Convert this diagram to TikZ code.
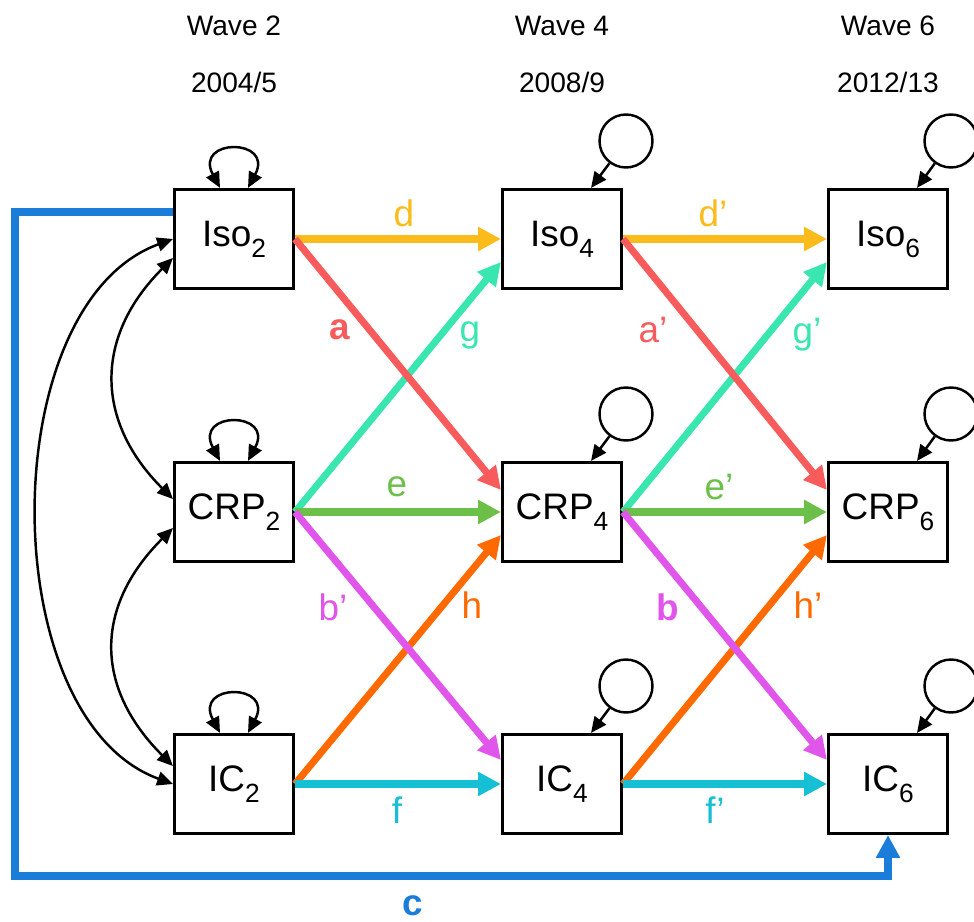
\documentclass[tikz,border=0pt]{standalone}
\usepackage{fontspec}
\setmainfont{Liberation Sans}
\usetikzlibrary{arrows.meta}

\definecolor{dcol}{RGB}{251,187,26}
\definecolor{acol}{RGB}{247,91,91}
\definecolor{gcol}{RGB}{58,230,176}
\definecolor{ecol}{RGB}{108,192,74}
\definecolor{bcol}{RGB}{225,86,234}
\definecolor{hcol}{RGB}{255,106,0}
\definecolor{fcol}{RGB}{22,192,212}
\definecolor{ccol}{RGB}{26,125,218}

\newcommand{\wsub}[1]{\raisebox{-0.3em}{\fontsize{15}{15}\selectfont #1}}

\begin{document}
\begin{tikzpicture}[x=0.02cm, y=-0.02cm,
  >={Triangle[length=9pt,width=8pt]},
  var/.style={draw, rectangle, line width=1.5pt, minimum width=2.39cm, minimum height=1.99cm, inner sep=0pt, font=\fontsize{21}{25}\selectfont},
  err/.style={draw, circle, line width=1.4pt, minimum size=1.06cm, inner sep=0pt},
  blk/.style={line width=1.4pt},
  arr/.style={line width=4pt, -{Triangle[length=13pt,width=13pt]}},
  lab/.style={inner sep=0pt, font=\fontsize{21}{25}\selectfont},
  title/.style={inner sep=0pt, font=\fontsize{16}{19}\selectfont}]
\useasboundingbox (0,0) rectangle (974,922);

\node[title] (w2) at (234,26) {Wave 2};
\node[title] (w4) at (562,26) {Wave 4};
\node[title] (w6) at (888,26) {Wave 6};
\node[title] (t2) at (234,82) {2004/5};
\node[title] (t4) at (562,82) {2008/9};
\node[title] (t6) at (888,82) {2012/13};

\node[var] (iso2) at (234,239) {Iso\wsub{2}};
\node[var] (crp2) at (234,512) {CRP\wsub{2}};
\node[var] (ic2) at (234,784) {IC\wsub{2}};
\node[var] (iso4) at (562,239) {Iso\wsub{4}};
\node[var] (crp4) at (562,512) {CRP\wsub{4}};
\node[var] (ic4) at (562,784) {IC\wsub{4}};
\node[var] (iso6) at (888,239) {Iso\wsub{6}};
\node[var] (crp6) at (888,512) {CRP\wsub{6}};
\node[var] (ic6) at (888,784) {IC\wsub{6}};

\node[err] (eiso4) at (626,141) {};
\node[err] (ecrp4) at (626,414) {};
\node[err] (eic4) at (626,686) {};
\node[err] (eiso6) at (951,141) {};
\node[err] (ecrp6) at (951,414) {};
\node[err] (eic6) at (951,686) {};

\draw[blk,->] (eiso4) -- ([xshift=0.58cm]iso4.north);
\draw[blk,->] (ecrp4) -- ([xshift=0.58cm]crp4.north);
\draw[blk,->] (eic4) -- ([xshift=0.58cm]ic4.north);
\draw[blk,->] (eiso6) -- ([xshift=0.58cm]iso6.north);
\draw[blk,->] (ecrp6) -- ([xshift=0.58cm]crp6.north);
\draw[blk,->] (eic6) -- ([xshift=0.58cm]ic6.north);

\draw[blk,<->] ([xshift=-0.28cm]iso2.north) to[out=118,in=62,looseness=5.2] ([xshift=0.28cm]iso2.north);
\draw[blk,<->] ([xshift=-0.28cm]crp2.north) to[out=118,in=62,looseness=5.2] ([xshift=0.28cm]crp2.north);
\draw[blk,<->] ([xshift=-0.28cm]ic2.north) to[out=118,in=62,looseness=5.2] ([xshift=0.28cm]ic2.north);

\draw[blk,<->] (iso2.west) to[out=200,in=160,looseness=0.9] (ic2.west);
\draw[blk,<->] ([yshift=-0.38cm]iso2.west) to[out=225,in=135,looseness=1.18] ([yshift=0.26cm]crp2.west);
\draw[blk,<->] ([yshift=-0.32cm]crp2.west) to[out=225,in=135,looseness=1.2] ([yshift=0.36cm]ic2.west);

\coordinate (cbend) at (15,876);
\draw[arr,ccol] ([yshift=0.54cm]iso2.west) -| (cbend) -| (ic6.south);

\draw[arr,dcol] (iso2.east) -- (iso4.west);
\draw[arr,gcol] (crp2.east) -- ([yshift=-0.46cm]iso4.west);
\draw[arr,acol] (iso2.east) -- ([yshift=0.44cm]crp4.west);
\draw[arr,ecol] (crp2.east) -- (crp4.west);
\draw[arr,hcol] (ic2.east) -- ([yshift=-0.46cm]crp4.west);
\draw[arr,bcol] (crp2.east) -- ([yshift=0.48cm]ic4.west);
\draw[arr,fcol] (ic2.east) -- (ic4.west);

\draw[arr,dcol] (iso4.east) -- (iso6.west);
\draw[arr,gcol] (crp4.east) -- ([yshift=-0.46cm]iso6.west);
\draw[arr,acol] (iso4.east) -- ([yshift=0.44cm]crp6.west);
\draw[arr,ecol] (crp4.east) -- (crp6.west);
\draw[arr,hcol] (ic4.east) -- ([yshift=-0.46cm]crp6.west);
\draw[arr,bcol] (crp4.east) -- ([yshift=0.48cm]ic6.west);
\draw[arr,fcol] (ic4.east) -- (ic6.west);

\node[lab,text=dcol] (ld) at (404,213) {d};
\node[lab,text=acol] (la) at (340,330) {\bfseries a};
\node[lab,text=gcol] (lg) at (470,335) {g};
\node[lab,text=ecol] (le) at (397,487) {e};
\node[lab,text=bcol] (lbp) at (333,607) {b'};
\node[lab,text=hcol] (lh) at (472,605) {h};
\node[lab,text=fcol] (lf) at (397,810) {f};
\node[lab,text=dcol] (ldp) at (713,213) {d'};
\node[lab,text=acol] (lap) at (653,330) {a'};
\node[lab,text=gcol] (lgp) at (807,335) {g'};
\node[lab,text=ecol] (lep) at (719,487) {e'};
\node[lab,text=bcol] (lb) at (668,607) {\bfseries b};
\node[lab,text=hcol] (lhp) at (808,605) {h'};
\node[lab,text=fcol] (lfp) at (715,810) {f'};
\node[lab,text=ccol] (lc) at (413,906) {\bfseries c};

\end{tikzpicture}
\end{document}
